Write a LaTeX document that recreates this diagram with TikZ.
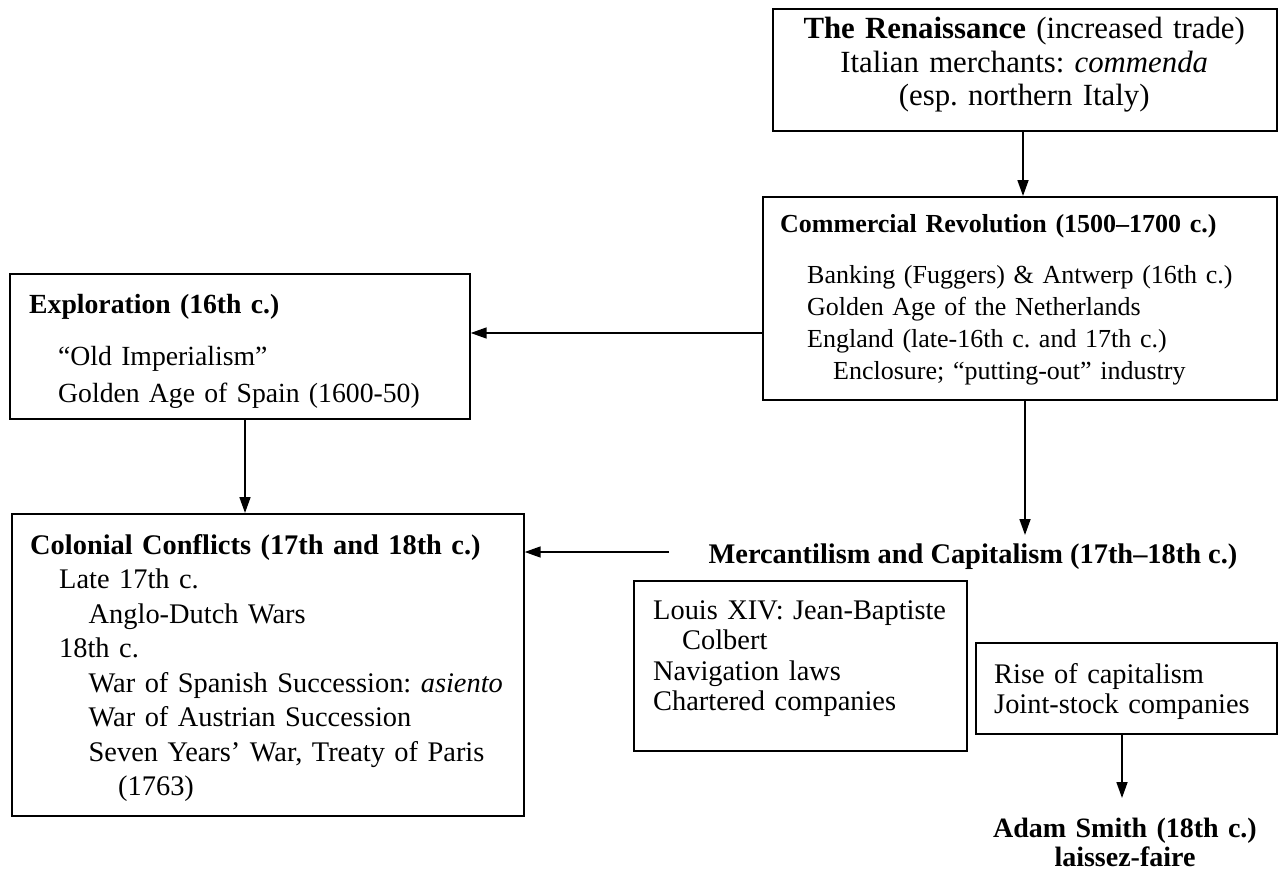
\documentclass[tikz,border=0pt]{standalone}
\usepackage{fontspec}
\setmainfont{Liberation Serif}
\usetikzlibrary{arrows.meta,calc}
\frenchspacing
\begin{document}
\begin{tikzpicture}[x=1pt,y=-1pt,
  box/.style={draw, line width=1.7pt, inner sep=0pt, anchor=north west},
  txt/.style={inner sep=0pt, anchor=base west, align=left},
  arr/.style={line width=1.7pt, -{Triangle[length=16pt,width=11pt]}}]
\useasboundingbox (0,0) rectangle (1279,872);
\fill[white] (0,0) rectangle (1279,872);

% boxes
\node[box, minimum width=504pt, minimum height=122pt] (ren) at (772,8) {};
\node[box, minimum width=514pt, minimum height=203pt] (com) at (762,196) {};
\node[box, minimum width=460pt, minimum height=145pt] (exp) at (9,273) {};
\node[box, minimum width=512pt, minimum height=302pt] (col) at (11,513) {};
\node[box, minimum width=333pt, minimum height=170pt] (lou) at (633,580) {};
\node[box, minimum width=301pt, minimum height=91pt] (rise) at (975,642) {};

% texts
\node[txt, text width=504pt, align=center, font=\fontsize{30.8}{33.5}\selectfont] (rent) at (772,39)
  {\textbf{The Renaissance} (increased trade)\\
   Italian merchants: \textit{commenda}\\
   (esp. northern Italy)};

\node[txt, text width=494pt, font=\fontsize{26}{32}\selectfont] (comt) at (780,232)
  {\textbf{Commercial Revolution (1500–1700 c.)}\\[19pt]
   \hspace*{27pt}Banking (Fuggers) \& Antwerp (16th c.)\\
   \hspace*{27pt}Golden Age of the Netherlands\\
   \hspace*{27pt}England (late-16th c. and 17th c.)\\
   \hspace*{53pt}Enclosure; “putting-out” industry};

\node[txt, text width=440pt, font=\fontsize{27.7}{37}\selectfont] (expt) at (29,313)
  {\textbf{Exploration (16th c.)}\\[15pt]
   \hspace*{29pt}“Old Imperialism”\\
   \hspace*{29pt}Golden Age of Spain (1600-50)};

\node[txt, text width=490pt, font=\fontsize{28.4}{34.5}\selectfont] (colt) at (30,554)
  {\textbf{Colonial Conflicts (17th and 18th c.)}\\
   \hspace*{29pt}Late 17th c.\\
   \hspace*{58.5pt}Anglo-Dutch Wars\\
   \hspace*{29pt}18th c.\\
   \hspace*{58.5pt}War of Spanish Succession: \textit{asiento}\\
   \hspace*{58.5pt}War of Austrian Succession\\
   \hspace*{58.5pt}Seven Years’ War, Treaty of Paris\\
   \hspace*{88pt}(1763)};

\node[txt, text width=310pt, font=\fontsize{28.4}{30.5}\selectfont] (lout) at (653,619)
  {Louis XIV: Jean-Baptiste\\
   \hspace*{29pt}Colbert\\
   Navigation laws\\
   Chartered companies};

\node[txt, text width=280pt, font=\fontsize{28.4}{30}\selectfont] (riset) at (994,683)
  {Rise of capitalism\\
   Joint-stock companies};

\node[inner sep=0pt, anchor=base, font=\fontsize{28.4}{34}\selectfont\bfseries] (merc) at (973,563)
  {Mercantilism and Capitalism (17th–18th c.)};

\node[inner sep=0pt, anchor=base, text width=300pt, align=center,
      font=\fontsize{28}{29}\selectfont\bfseries] (adam) at (1125,837)
  {Adam Smith (18th c.)\\ laissez-faire};

% connector helper coordinates
\coordinate (c1) at (1023,0);
\coordinate (c2) at (0,333);
\coordinate (c3) at (245,0);
\coordinate (c4) at (1025,535);
\coordinate (c5) at (669,552);
\coordinate (c6) at (1122,798);

% connectors
\draw[arr] (ren.south -| c1) -- (com.north -| c1);
\draw[arr] (com.west |- c2) -- (exp.east |- c2);
\draw[arr] (exp.south -| c3) -- (col.north -| c3);
\draw[arr] (com.south -| c4) -- (c4);
\draw[arr] (c5) -- (col.east |- c5);
\draw[arr] (rise.south -| c6) -- (c6);
\end{tikzpicture}
\end{document}
